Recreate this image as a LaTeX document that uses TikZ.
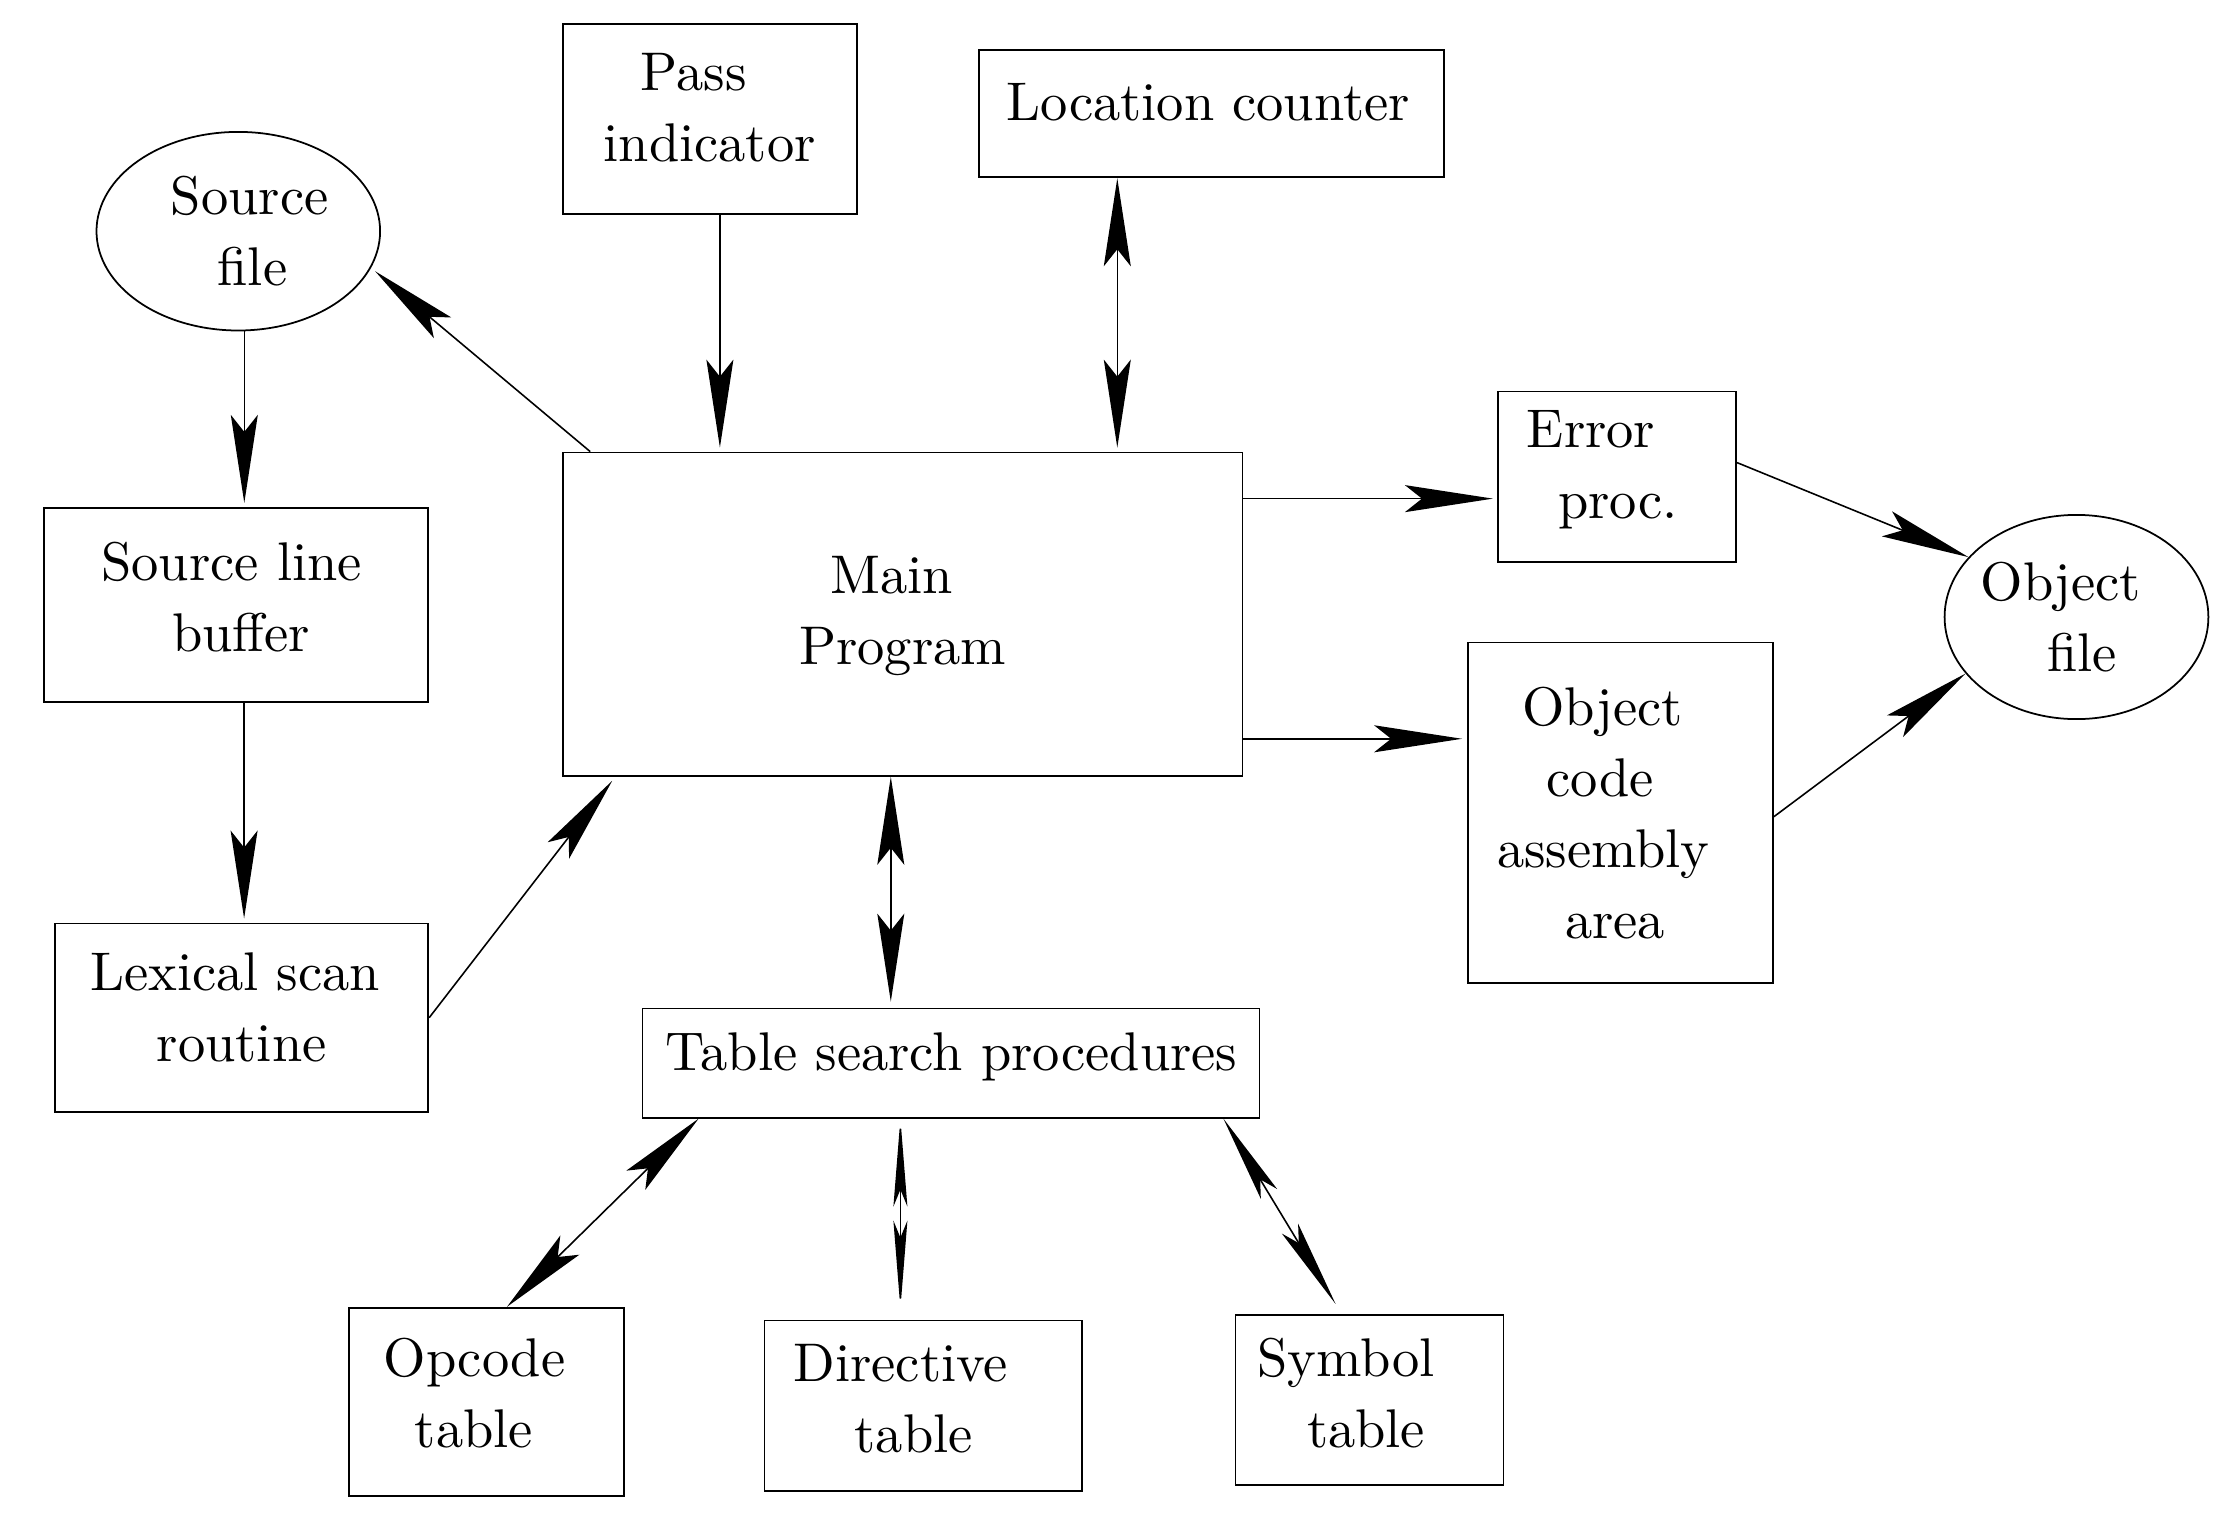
\documentclass[tikz,border=0pt]{standalone}
\usepackage{fontspec}
\setmainfont{lmroman10-regular.otf}
\usepackage{tikz}
\usetikzlibrary{arrows.meta,shapes.geometric}

\begin{document}
\begin{tikzpicture}[
  font=\fontsize{15.5}{20.2}\selectfont,
  every node/.style={align=left},
  box/.style={rectangle, draw, line width=0.5pt, inner sep=0pt},
  oval/.style={ellipse, draw, line width=0.5pt, inner sep=0pt},
  lbl/.style={inner sep=0pt, anchor=west},
  arrow/.style={-{Stealth[length=8.8mm, width=2.7mm, inset=1.7mm]}, line width=0.45pt},
  biarrow/.style={{Stealth[length=8.8mm, width=2.7mm, inset=1.7mm]}-{Stealth[length=8.8mm, width=2.7mm, inset=1.7mm]}, line width=0.45pt},
  thinbiarrow/.style={{Stealth[length=8.8mm, width=#1, inset=1.7mm]}-{Stealth[length=8.8mm, width=#1, inset=1.7mm]}, line width=0.45pt}
]
  \useasboundingbox (0,0) rectangle (22.24,-15.32);

  % top row
  \node[box, minimum width=2.936cm, minimum height=1.901cm] (pass) at (7.099,-1.191) {};
  \node[lbl] (pass-t) at (6.03,-1.078) {\hspace*{0.37cm}Pass\\indicator};
  \node[box, minimum width=4.652cm, minimum height=1.277cm] (loc) at (12.113,-1.135) {};
  \node[lbl] (loc-t) at (10.056,-1.021) {Location counter};

  % left column
  \node[oval, minimum width=2.836cm, minimum height=1.986cm] (srcfile) at (2.383,-2.312) {};
  \node[lbl] (srcfile-t) at (1.702,-2.312) {Source\\\hspace*{0.468cm}file};
  \node[box, minimum width=3.843cm, minimum height=1.943cm] (srcline) at (2.361,-6.049) {};
  \node[lbl] (srcline-t) at (1.007,-5.971) {Source line\\\hspace*{0.709cm}buffer};
  \node[box, minimum width=3.730cm, minimum height=1.886cm] (lexical) at (2.418,-10.177) {};
  \node[lbl] (lexical-t) at (0.894,-10.071) {Lexical scan\\\hspace*{0.667cm}routine};

  % centre
  \node[box, minimum width=6.794cm, minimum height=3.234cm] (main) at (9.028,-6.142) {};
  \node[lbl] (main-t) at (7.985,-6.156) {\hspace*{0.312cm}Main\\Program};
  \node[box, minimum width=6.170cm, minimum height=1.092cm] (table) at (9.510,-10.631) {};
  \node[lbl] (table-t) at (6.652,-10.567) {Table search procedures};

  % right side
  \node[box, minimum width=2.383cm, minimum height=1.702cm] (error) at (16.170,-4.766) {};
  \node[lbl] (error-t) at (15.262,-4.695) {Error\\\hspace*{0.312cm}proc.};
  \node[box, minimum width=3.050cm, minimum height=3.404cm] (objcode) at (16.205,-8.127) {};
  \node[lbl] (objcode-t) at (14.964,-8.127) {\hspace*{0.255cm}Object\\\hspace*{0.496cm}code\\assembly\\\hspace*{0.681cm}area};
  \node[oval, minimum width=2.638cm, minimum height=2.042cm] (objfile) at (20.765,-6.170) {};
  \node[lbl] (objfile-t) at (19.800,-6.170) {Object\\\hspace*{0.667cm}file};

  % tables
  \node[box, minimum width=2.752cm, minimum height=1.887cm] (opcode) at (4.865,-14.020) {};
  \node[lbl] (opcode-t) at (3.830,-13.929) {Opcode\\\hspace*{0.312cm}table};
  \node[box, minimum width=3.177cm, minimum height=1.702cm] (directive) at (9.234,-14.056) {};
  \node[lbl] (directive-t) at (7.929,-13.985) {Directive\\\hspace*{0.610cm}table};
  \node[box, minimum width=2.681cm, minimum height=1.702cm] (symbol) at (13.695,-13.999) {};
  \node[lbl] (symbol-t) at (12.567,-13.929) {Symbol\\\hspace*{0.496cm}table};

  % connectors
  \draw[arrow] ([xshift=1mm]pass.south) -- ([xshift=1mm,yshift=0.4mm]pass.south |- main.north);
  \draw[biarrow] ([xshift=-9.4mm]loc.south) -- ([xshift=-9.4mm,yshift=0.4mm]loc.south |- main.north);
  \draw[arrow] ([xshift=2.8mm]main.north west) -- ([xshift=0.6mm]srcfile.-17);
  \draw[arrow] ([xshift=0.6mm]srcfile.south) -- ([xshift=0.6mm,yshift=0.4mm]srcfile.south |- srcline.north);
  \draw[arrow] ([xshift=0.8mm]srcline.south) -- ([xshift=0.8mm,yshift=0.4mm]srcline.south |- lexical.north);
  \draw[arrow] (lexical.east) -- ([xshift=5mm,yshift=-0.4mm]main.south west);
  \draw[arrow] ([yshift=-4.7mm]main.north east) -- ([xshift=-0.4mm,yshift=-4.7mm]main.north east -| error.west);
  \draw[arrow] ([yshift=3.8mm]main.south east) -- ([xshift=-0.5mm,yshift=3.8mm]main.south east -| objcode.west);
  \draw[arrow] ([yshift=1.4mm]error.east) -- (objfile.151);
  \draw[arrow] ([yshift=-0.4mm]objcode.east) -- (objfile.207);
  \draw[biarrow] ([xshift=-1.2mm]main.south) -- ([xshift=-1.2mm,yshift=0.6mm]main.south |- table.north);
  \draw[biarrow] ([xshift=5.7mm]table.south west) -- ([xshift=15.9mm]opcode.north west);
  \draw[thinbiarrow=1.4mm] ([xshift=-2.3mm]directive.north |- table.south) -- ([xshift=-2.3mm,yshift=1.1mm]directive.north);
  \draw[thinbiarrow=1.9mm] ([xshift=-3.7mm]table.south east) -- ([xshift=10.1mm,yshift=1mm]symbol.north west);
\end{tikzpicture}
\end{document}
